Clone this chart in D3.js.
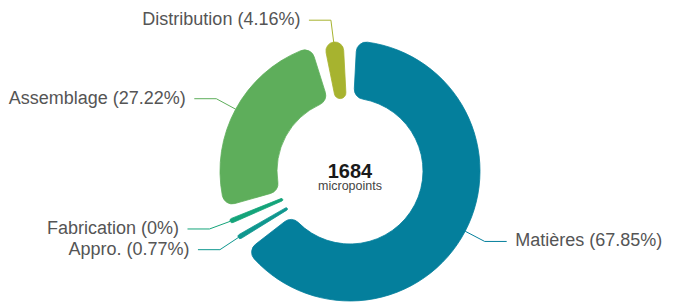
<!DOCTYPE html>
<html>
<head>
<meta charset="utf-8">
<script src="https://cdn.jsdelivr.net/npm/d3@7"></script>
<style>
  html, body { margin: 0; padding: 0; background: #fff; }
  svg { display: block; font-family: "Liberation Sans", Arial, sans-serif; }
</style>
</head>
<body>
<svg id="chart" width="676" height="303"></svg>
<script>
// data
const categories = ["Matières", "Appro.", "Fabrication", "Assemblage", "Distribution"];
const percents = [67.85, 0.77, 0, 27.22, 4.16];
const colors = ["#047f9c", "#0f978f", "#14a47a", "#5eae5b", "#a7b32f"];
const totalValue = 1684;
const totalUnit = "micropoints";

const cx = 350, cy = 171;
const outerR = 130, innerR = 73;
const padDeg = 6, minDeg = 2;   // gap between slices, minimum slice angle
const rad = d => d * Math.PI / 180;

// slice angles: tiny slices get a minimum angle, the rest share what is left
const minAndPad = rad(padDeg + minDeg);
const firstUnit = (2 * Math.PI - rad(padDeg) * percents.length) / d3.sum(percents);
const isSmall = percents.map(v => v * firstUnit < minAndPad);
const nSmall = isSmall.filter(Boolean).length;
const share = d3.scaleLinear()
    .domain([0, d3.sum(percents.filter((v, i) => !isSmall[i]))])
    .range([0, 2 * Math.PI - nSmall * minAndPad]);

let acc = 0;
const slices = percents.map((v, i) => {
    const span = isSmall[i] ? minAndPad : share(v);
    const s = {
        name: categories[i], value: v, color: colors[i],
        startAngle: acc + rad(padDeg) / 2,
        endAngle: acc + span - rad(padDeg) / 2,
        mid: acc + span / 2
    };
    acc += span;
    return s;
});

const svg = d3.select("#chart");
const g = svg.append("g").attr("transform", `translate(${cx},${cy})`);

const arc = d3.arc()
    .innerRadius(innerR)
    .outerRadius(outerR)
    .cornerRadius(10);

g.selectAll("path.slice")
    .data(slices)
    .enter()
    .append("path")
    .attr("class", "slice")
    .attr("d", arc)
    .attr("fill", d => d.color)
    .attr("stroke", d => d.color)
    .attr("stroke-width", 0.8);

// label lines: radial piece then horizontal piece
const len1 = 22, len2 = 22, gap = 8.5, lineH = 20.7;
const bendR = outerR + len1;
slices.forEach(d => {
    d.side = Math.sin(d.mid) >= 0 ? 1 : -1;
    d.y = -bendR * Math.cos(d.mid);
});
[1, -1].forEach(side => {
    const group = slices.filter(d => d.side === side).sort((a, b) => a.y - b.y);
    for (let k = 0; k < 20; k++) {
        for (let i = 1; i < group.length; i++) {
            const over = lineH - (group[i].y - group[i - 1].y);
            if (over > 0) {
                group[i - 1].y -= over / 2;
                group[i].y += over / 2;
            }
        }
    }
});
slices.forEach(d => {
    const dy = Math.max(-bendR, Math.min(bendR, d.y));
    d.bx = d.side * Math.sqrt(bendR * bendR - dy * dy);
    d.ex = d.bx + d.side * len2;
});

g.selectAll("polyline.link")
    .data(slices)
    .enter()
    .append("polyline")
    .attr("class", "link")
    .attr("points", d => [
        [outerR * Math.sin(d.mid), -outerR * Math.cos(d.mid)],
        [d.bx, d.y],
        [d.ex, d.y]
    ].join(" "))
    .attr("fill", "none")
    .attr("stroke", d => d.color)
    .attr("stroke-width", 1);

g.selectAll("text.label")
    .data(slices)
    .enter()
    .append("text")
    .attr("class", "label")
    .attr("x", d => d.ex + d.side * gap)
    .attr("y", d => d.y)
    .attr("dy", 5)
    .attr("text-anchor", d => d.side > 0 ? "start" : "end")
    .attr("font-size", 18)
    .attr("fill", "#555")
    .text(d => `${d.name} (${d.value}%)`);

// centre total
g.append("text")
    .attr("x", 0)
    .attr("y", 6.5)
    .attr("text-anchor", "middle")
    .attr("font-size", 20)
    .attr("font-weight", "bold")
    .attr("fill", "#1a1a1a")
    .text(totalValue);

g.append("text")
    .attr("x", 0)
    .attr("y", 18.5)
    .attr("text-anchor", "middle")
    .attr("font-size", 12.5)
    .attr("fill", "#444")
    .text(totalUnit);
</script>
</body>
</html>
